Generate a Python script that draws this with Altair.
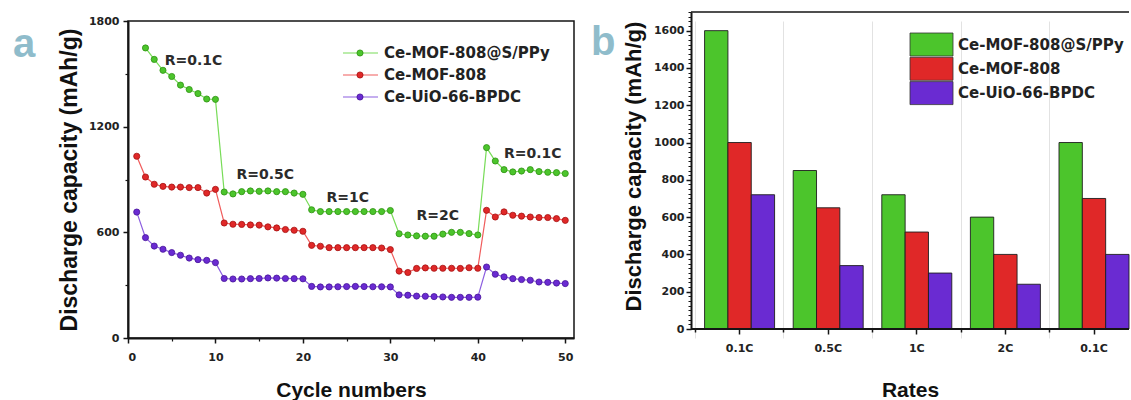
import json
import altair as alt
import pandas as pd

# ---- series names and colours ---------------------------------------------
SERIES = ["Ce-MOF-808@S/PPy", "Ce-MOF-808", "Ce-UiO-66-BPDC"]
LINE_COLORS = ["#78dc58", "#f05c5c", "#8c5ee0"]
DOT_FILL = ["#4cc52c", "#e02828", "#6a2bd2"]
DOT_EDGE = ["#2e9212", "#a61212", "#471499"]
BAR_COLORS = ["#42c214", "#d10000", "#6400c8"]

# ---- (a) discharge capacity vs. cycle number -------------------------------
CYCLES = list(range(1, 51))
CAP_S_PPY = [None, 1647, 1582, 1520, 1485, 1436, 1411, 1388, 1357, 1355,
             829, 818, 831, 835, 833, 835, 831, 831, 823, 816,
             728, 718, 718, 718, 718, 718, 718, 718, 718, 724,
             592, 585, 580, 578, 578, 590, 600, 600, 593, 585,
             1081, 1005, 956, 943, 948, 956, 945, 941, 939, 934]
CAP_MOF808 = [1032, 914, 873, 861, 857, 857, 854, 854, 823, 844,
              653, 646, 645, 642, 641, 631, 625, 616, 612, 606,
              526, 521, 513, 513, 513, 513, 513, 513, 511, 502,
              380, 372, 395, 398, 396, 396, 396, 395, 399, 396,
              725, 687, 716, 697, 692, 687, 684, 684, 678, 668]
CAP_UIO66 = [715, 570, 522, 504, 485, 470, 454, 445, 441, 428,
             338, 335, 335, 337, 338, 341, 340, 338, 337, 336,
             293, 290, 290, 291, 292, 293, 292, 291, 291, 290,
             245, 243, 238, 237, 235, 233, 231, 231, 231, 232,
             403, 362, 347, 337, 332, 328, 318, 316, 312, 309]

# rate annotations, anchored in (cycle, capacity) coordinates
RATE_NOTES = ["R=0.1C", "R=0.5C", "R=1C", "R=2C", "R=0.1C"]
NOTE_CYCLE = [4.2, 12.4, 22.7, 33.0, 43.0]
NOTE_CAP = [1548, 905, 772, 668, 1024]

# ---- (b) capacity at each rate step ----------------------------------------
RATES = ["0.1C", "0.5C", "1C", "2C", "0.1C"]
BAR_S_PPY = [1600, 850, 720, 600, 1000]
BAR_MOF808 = [1000, 650, 520, 400, 700]
BAR_UIO66 = [720, 340, 300, 240, 400]

# ---- tables ----------------------------------------------------------------
rows = []
for name, caps in zip(SERIES, [CAP_S_PPY, CAP_MOF808, CAP_UIO66]):
    for c, v in zip(CYCLES, caps):
        if v is not None:
            rows.append({"series": name, "cycle": c, "capacity": v})
cap_df = pd.DataFrame(rows)

notes_df = pd.DataFrame({"note": RATE_NOTES, "cycle": NOTE_CYCLE, "capacity": NOTE_CAP})

bar_rows = []
for name, vals in zip(SERIES, [BAR_S_PPY, BAR_MOF808, BAR_UIO66]):
    for i, v in enumerate(vals):
        bar_rows.append({"series": name, "stage": i + 1, "value": v})
bar_df = pd.DataFrame(bar_rows)

legend_df = pd.DataFrame({"series": SERIES, "row": list(range(len(SERIES)))})
one_row = pd.DataFrame({"k": [0]})

# ---- styling ---------------------------------------------------------------
TICK_FONT = "DejaVu Sans"
TITLE_FONT = "Liberation Sans"
INK = "#151515"
TAG_COLOR = "#8fbccb"

W1, H1 = 446, 317
W2, H2 = 438, 308
LIFT_B = 9          # panel (b) frame sits higher than panel (a)

# band layout of panel (b): all outer padding on the left, last group flush right
PAD_INNER = 0.21
PAD_OUTER = 0.0767

# ---- panel (a) -------------------------------------------------------------
x_a = alt.Scale(domain=[0, 51], nice=False, zero=False)
y_a = alt.Scale(domain=[0, 1800], nice=False)

line_color = alt.Color("series:N", scale=alt.Scale(domain=SERIES, range=LINE_COLORS), legend=None)
dot_fill = alt.Fill("series:N", scale=alt.Scale(domain=SERIES, range=DOT_FILL), legend=None)
dot_edge = alt.Stroke("series:N", scale=alt.Scale(domain=SERIES, range=DOT_EDGE), legend=None)

cap_base = alt.Chart(cap_df)

lines = cap_base.mark_line(strokeWidth=1.2).encode(
    x=alt.X("cycle:Q", scale=x_a,
            axis=alt.Axis(values=[0, 10, 20, 30, 40, 50], format="d", title="Cycle numbers",
                          tickSize=5, tickWidth=1.5, labelPadding=8, titlePadding=17,
                          titleFontSize=21, domainWidth=2)),
    y=alt.Y("capacity:Q", scale=y_a,
            axis=alt.Axis(values=[0, 600, 1200, 1800], format="d",
                          title="Discharge capacity (mAh/g)",
                          tickSize=5, tickWidth=1.5, labelPadding=4, titlePadding=7,
                          titleFontSize=23, domainWidth=2)),
    color=line_color,
)

dots = cap_base.mark_circle(size=38, strokeWidth=0.8, opacity=1).encode(
    x=alt.X("cycle:Q", scale=x_a,
            axis=alt.Axis(values=[5, 15, 25, 35, 45], labels=False, domain=False,
                          tickSize=3, tickWidth=1.2, title=None, orient="bottom")),
    y=alt.Y("capacity:Q", scale=y_a,
            axis=alt.Axis(values=[300, 900, 1500], labels=False, domain=False,
                          tickSize=3, tickWidth=1.2, title=None, orient="left")),
    fill=dot_fill,
    stroke=dot_edge,
)

notes = alt.Chart(notes_df).mark_text(
    align="left", baseline="alphabetic", font=TICK_FONT, fontWeight="bold",
    fontSize=14, color="#2b2b2b"
).encode(
    x=alt.X("cycle:Q", scale=x_a, axis=None),
    y=alt.Y("capacity:Q", scale=y_a, axis=None),
    text="note:N",
)

leg_a = alt.Chart(legend_df).transform_calculate(ly="32 + 22 * datum.row")
leg_y = alt.Y("ly:Q", scale=None)
leg_a_line = leg_a.mark_rule(strokeWidth=1.2).encode(
    x=alt.value(215), x2=alt.value(250), y=leg_y, color=line_color)
leg_a_dot = leg_a.mark_circle(size=38, strokeWidth=0.8, opacity=1).encode(
    x=alt.value(232), y=leg_y, fill=dot_fill, stroke=dot_edge)
leg_a_text = leg_a.mark_text(
    align="left", baseline="middle", font=TICK_FONT, fontWeight="bold",
    fontSize=15, color="#222222"
).encode(x=alt.value(256), y=leg_y, text="series:N")

tag_a = alt.Chart(pd.DataFrame({"tag": ["a"]})).mark_text(
    align="left", baseline="alphabetic", font=TITLE_FONT, fontSize=40,
    fontWeight="bold", color=TAG_COLOR
).encode(x=alt.value(-115), y=alt.value(36), text="tag:N")

panel_a = alt.layer(
    lines, dots, notes, leg_a_line, leg_a_dot, leg_a_text, tag_a
).resolve_axis(x="independent", y="independent").properties(
    width=W1, height=H1, view=alt.ViewBackground(stroke=INK, strokeWidth=1.5)
)

# ---- panel (b) -------------------------------------------------------------
x_b = alt.Scale(type="band", paddingInner=PAD_INNER, paddingOuter=PAD_OUTER, align=1)
y_b = alt.Scale(domain=[0, 1700], nice=False, range=[H2, -LIFT_B])
offset_b = alt.XOffset("series:N", scale=alt.Scale(domain=SERIES, paddingInner=0, paddingOuter=0))
bar_fill = alt.Fill("series:N", scale=alt.Scale(domain=SERIES, range=BAR_COLORS), legend=None)
rate_labels = json.dumps(RATES) + "[datum.value - 1]"
gap_position = -PAD_INNER / (2 * (1 - PAD_INNER))

bars = alt.Chart(bar_df).mark_bar(
    stroke="#1e1e1e", strokeWidth=0.9, opacity=1, fillOpacity=1
).encode(
    x=alt.X("stage:O", scale=x_b,
            axis=alt.Axis(labelExpr=rate_labels, labelAngle=0, title="Rates",
                          tickSize=5, tickWidth=1.5, labelPadding=8, titlePadding=26,
                          titleFontSize=21, domain=False)),
    xOffset=offset_b,
    y=alt.Y("value:Q", scale=y_b, stack=None,
            axis=alt.Axis(values=list(range(0, 1601, 200)), format="d",
                          title="Discharge capacity (mAh/g)", titleY=145,
                          tickSize=5, tickWidth=1.5,
                          labelPadding=2, titlePadding=8, titleFontSize=22, domainWidth=2)),
    fill=bar_fill,
)

bar_minor = alt.Chart(bar_df).mark_bar(opacity=0).encode(
    x=alt.X("stage:O", scale=x_b,
            axis=alt.Axis(grid=True, gridColor="#e2e2e2", gridWidth=1, bandPosition=gap_position,
                          labels=False, domain=False, tickSize=3, tickWidth=1.5,
                          title=None, orient="bottom")),
    xOffset=offset_b,
    y=alt.Y("value:Q", scale=y_b, stack=None,
            axis=alt.Axis(values=list(range(0, 1701, 25)), labels=False, domain=False,
                          tickSize=3, tickWidth=1, title=None, orient="left")),
)

frame_top = alt.Chart(one_row).mark_rule(color=INK, strokeWidth=1.6).encode(
    x=alt.value(0), x2=alt.value(W2), y=alt.value(-LIFT_B))
frame_bottom = alt.Chart(one_row).mark_rule(color=INK, strokeWidth=2).encode(
    x=alt.value(0), x2=alt.value(W2), y=alt.value(H2))

leg_b = alt.Chart(legend_df).transform_calculate(
    top="12 + 24.3 * datum.row", bottom="35 + 24.3 * datum.row", mid="23.5 + 24.3 * datum.row")
leg_b_box = leg_b.mark_rect(stroke="#333333", strokeWidth=0.8, opacity=1, fillOpacity=1).encode(
    x=alt.value(219), x2=alt.value(262),
    y=alt.Y("top:Q", scale=None), y2="bottom:Q", fill=bar_fill)
leg_b_text = leg_b.mark_text(
    align="left", baseline="middle", font=TICK_FONT, fontWeight="bold",
    fontSize=15, color="#222222"
).encode(x=alt.value(267), y=alt.Y("mid:Q", scale=None), text="series:N")

tag_b = alt.Chart(pd.DataFrame({"tag": ["b"]})).mark_text(
    align="left", baseline="alphabetic", font=TITLE_FONT, fontSize=40,
    fontWeight="bold", color=TAG_COLOR
).encode(x=alt.value(-100), y=alt.value(34), text="tag:N")

panel_b = alt.layer(
    bars, bar_minor, frame_top, frame_bottom, leg_b_box, leg_b_text, tag_b
).resolve_axis(x="independent", y="independent").properties(
    width=W2, height=H2, view=alt.ViewBackground(stroke="transparent")
)

chart = alt.hconcat(panel_a, panel_b, spacing=15).properties(
    padding={"left": 12, "top": 10, "right": 0, "bottom": 0},
    background="white",
).configure_axis(
    labelFont=TICK_FONT, labelFontWeight="bold", labelFontSize=11, labelColor="#222222",
    titleFont=TITLE_FONT, titleFontWeight="bold", titleColor="#111111",
    domainColor=INK, tickColor=INK, grid=False,
)

chart.save("out.html", embed_options={"renderer": "svg", "actions": False})
